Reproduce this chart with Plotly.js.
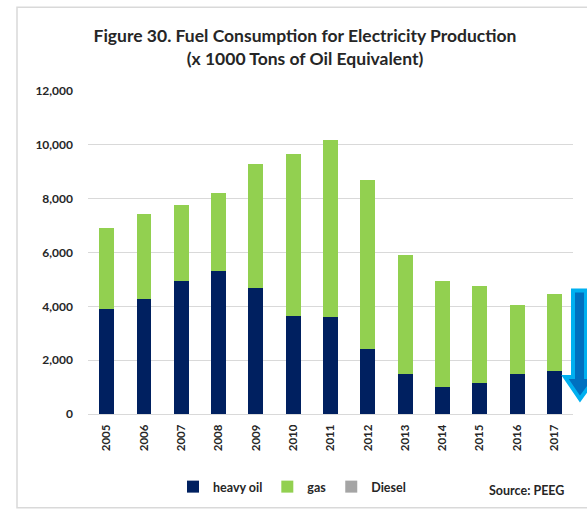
<!DOCTYPE html>
<html>
<head>
<meta charset="utf-8">
<script src="https://cdn.plot.ly/plotly-3.0.1.min.js"></script>
<style>
  html, body { margin: 0; padding: 0; background: #ffffff; }
  #chart { width: 587px; height: 513px; }
</style>
</head>
<body>
<div id="chart"></div>
<script>
const years = ['2005','2006','2007','2008','2009','2010','2011','2012','2013','2014','2015','2016','2017'];
const heavyOil = [3890, 4260, 4940, 5310, 4680, 3630, 3590, 2410, 1490, 1020, 1150, 1490, 1600];
const gas      = [3020, 3180, 2810, 2890, 4620, 6040, 6580, 6270, 4400, 3930, 3600, 2570, 2870];
const diesel   = [0, 0, 0, 0, 0, 0, 0, 0, 0, 0, 0, 0, 0];
const yTicks = [0, 2000, 4000, 6000, 8000, 10000, 12000];
const yTickText = ['0', '2,000', '4,000', '6,000', '8,000', '10,000', '12,000'];

const W = 587, H = 513;
const M = {l: 88, r: 14, t: 91, b: 98};
const pw = W - M.l - M.r, ph = H - M.t - M.b;
const px = x => (x - M.l) / pw;
const py = y => (H - M.b - y) / ph;

const font = 'Lato, "Open Sans", "Liberation Sans", sans-serif';

const traces = [
  {type: 'bar', name: 'heavy oil', x: years, y: heavyOil, marker: {color: '#002060'}},
  {type: 'bar', name: 'gas', x: years, y: gas, marker: {color: '#92D050'}},
  {type: 'bar', name: 'Diesel', x: years, y: diesel, marker: {color: '#A5A5A5'}}
];

// decorative arrow (pixel outline converted to paper coordinates)
const arrowPts = [[573,291],[586,291],[586,378],[596,378],[580,400],[565,378],[573,378]];
const arrowPath = 'M' + arrowPts.map(p => px(p[0]) + ',' + py(p[1])).join(' L') + ' Z';

const layout = {
  width: W, height: H,
  margin: M,
  paper_bgcolor: '#ffffff',
  plot_bgcolor: '#ffffff',
  barmode: 'stack',
  bargap: 0.6,
  showlegend: true,
  font: {family: font, color: '#262626'},
  title: {
    text: 'Figure 30. Fuel Consumption for Electricity Production<br>(x 1000 Tons of Oil Equivalent)',
    font: {family: font, size: 17.5, color: '#262626', weight: 'bold'},
    x: 305 / W, xanchor: 'center', xref: 'container',
    y: 1 - 42 / H, yanchor: 'middle', yref: 'container'
  },
  xaxis: {
    type: 'category',
    tickangle: -90,
    tickfont: {family: font, size: 11.5, color: '#262626', weight: 'bold'},
    showgrid: false,
    showline: true, linecolor: '#D9D9D9', linewidth: 1,
    ticks: '', ticklabelstandoff: 5
  },
  yaxis: {
    range: [0, 12000],
    tickvals: yTicks, ticktext: yTickText,
    tickfont: {family: font, size: 12, color: '#262626', weight: 'bold'},
    showgrid: true, gridcolor: '#D9D9D9', gridwidth: 1,
    zeroline: false, showline: false, ticks: '',
    ticklabelstandoff: 14
  },
  legend: {
    orientation: 'h',
    x: px(292), xanchor: 'center',
    y: py(487), yanchor: 'middle',
    font: {family: font, size: 12.5, color: '#262626', weight: 'bold'},
    itemwidth: 30,
    traceorder: 'normal',
    bgcolor: 'rgba(0,0,0,0)'
  },
  annotations: [{
    text: '<b>Source: PEEG</b>',
    xref: 'paper', yref: 'paper',
    x: px(566), xanchor: 'right',
    y: py(492), yanchor: 'middle',
    showarrow: false,
    font: {family: font, size: 12.5, color: '#262626'}
  }],
  shapes: [
    {type: 'rect', xref: 'paper', yref: 'paper', layer: 'below',
     x0: px(17), x1: px(600), y0: py(509), y1: py(7),
     line: {color: '#D9D9D9', width: 1.5}, fillcolor: 'rgba(0,0,0,0)'},
    {type: 'path', xref: 'paper', yref: 'paper', layer: 'above',
     path: arrowPath, fillcolor: '#0070C0',
     line: {color: '#00B0F0', width: 4}}
  ]
};

Plotly.newPlot('chart', traces, layout, {displayModeBar: false, staticPlot: true});
</script>
</body>
</html>
